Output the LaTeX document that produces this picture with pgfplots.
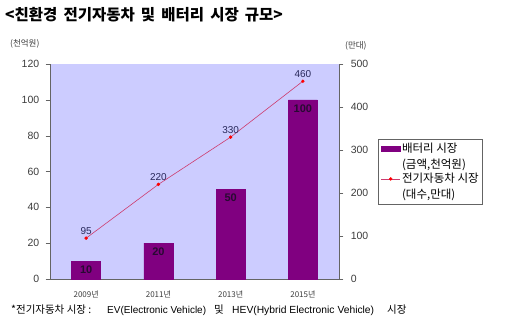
\documentclass[border=0pt]{standalone}
\usepackage{fontspec}
\setmainfont{Liberation Sans}
\newfontfamily\kr{Noto Sans CJK KR}
\usepackage{pgfplots}
\pgfplotsset{compat=1.18}
\definecolor{bg}{RGB}{204,204,255}
\definecolor{barc}{RGB}{128,0,128}
\definecolor{linec}{RGB}{204,60,110}
\definecolor{labc}{RGB}{40,40,90}
\definecolor{barlab}{RGB}{40,10,50}
\definecolor{axc}{RGB}{100,100,100}
\definecolor{tickc}{RGB}{60,60,60}
\begin{document}
\begin{tikzpicture}[x=1pt,y=1pt]
\useasboundingbox (0,0) rectangle (510,327);
\node[anchor=west, font=\kr\bfseries\fontsize{15.5}{17}\selectfont, inner sep=0pt] at (5,312) {<친환경 \,전기자동차 \,및 \,배터리 \,시장 \,규모>};
\node[anchor=west, font=\kr\fontsize{8.5}{9}\selectfont, text=tickc, inner sep=0pt] at (10,283) {(천억원)};
\node[anchor=west, font=\kr\fontsize{8.5}{9}\selectfont, text=tickc, inner sep=0pt] at (345,281) {(만대)};
\node[anchor=base west, inner sep=0pt, font=\kr\fontsize{10.5}{12}\selectfont] at (11,14) {*전기자동차 시장 :};
\node[anchor=base west, inner sep=0pt, font=\fontsize{10}{12}\selectfont] at (107,14) {EV(Electronic Vehicle)};
\node[anchor=base west, inner sep=0pt, font=\kr\fontsize{10.5}{12}\selectfont] at (214,14) {및};
\node[anchor=base west, inner sep=0pt, font=\fontsize{10.3}{12}\selectfont] at (232,14) {HEV(Hybrid Electronic Vehicle)};
\node[anchor=base west, inner sep=0pt, font=\kr\fontsize{10.5}{12}\selectfont] at (387,14) {시장};
\begin{axis}[at={(50pt,48pt)}, anchor=south west, scale only axis,
  width=289pt, height=215pt,
  xmin=-0.5, xmax=3.5, ymin=0, ymax=120,
  ytick={0,20,...,120},
  axis x line*=bottom, axis y line*=left,
  axis line style={axc, line width=0.8pt, -},
  axis background/.style={fill=bg},
  tick align=outside,
  /pgf/number format/assume math mode=true,
  yticklabel style={font=\fontsize{10.5}{12}\selectfont, text=tickc, xshift=-3pt},
  ytick style={axc},
  xtick={0,1,2,3},
  xticklabels={2009년,2011년,2013년,2015년},
  xticklabel style={font=\kr\fontsize{8}{9}\selectfont, text=tickc, yshift=-4pt},
  xtick style={/pgfplots/major tick length=0pt},
  extra x ticks={0.5,1.5,2.5},
  extra x tick labels={},
  extra x tick style={/pgfplots/major tick length=3pt, tick align=inside, axc},
]
\addplot[ybar, bar width=29pt, fill=barc, draw=barc,
  nodes near coords,
  nodes near coords align={below},
  every node near coord/.append style={font=\bfseries\fontsize{11}{12}\selectfont, text=barlab, yshift=-1pt}]
  coordinates {(0,10) (1,20) (2,50) (3,100)};
\end{axis}
\begin{axis}[at={(50pt,48pt)}, anchor=south west, scale only axis,
  width=289pt, height=215pt,
  xmin=-0.5, xmax=3.5, ymin=0, ymax=500,
  ytick={0,100,...,500},
  axis y line*=right, axis x line=none,
  axis line style={axc, line width=0.8pt, -},
  tick align=outside,
  ytick style={axc},
  /pgf/number format/assume math mode=true,
  yticklabel style={font=\fontsize{10.5}{12}\selectfont, text=tickc, xshift=4pt},
  legend style={at={(1.135,0.651)}, anchor=north west, draw=axc, line width=0.7pt,
    font=\kr\fontsize{11.5}{16}\selectfont, nodes={align=left, text=black, inner sep=1.5pt}, inner sep=2.5pt, row sep=0pt},
  legend cell align=left,
  legend image code/.code={\draw[#1] (0pt,8pt) -- (19pt,8pt); \draw[#1, only marks] plot coordinates {(9.5pt,8pt)};},
]
\addlegendimage{legend image code/.code={\fill[barc] (0pt,5.5pt) rectangle (19pt,10.5pt);}}
\addlegendentry{배터리 시장\\(금액,천억원)}
\addplot[linec, line width=0.6pt, mark=*, mark size=1.4pt, mark options={fill=red, draw=red},
  nodes near coords,
  every node near coord/.append style={font=\fontsize{10}{12}\selectfont, text=labc, yshift=0pt}]
  coordinates {(0,95) (1,220) (2,330) (3,460)};
\addlegendentry{전기자동차 시장\\(대수,만대)}
\end{axis}
\end{tikzpicture}
\end{document}
